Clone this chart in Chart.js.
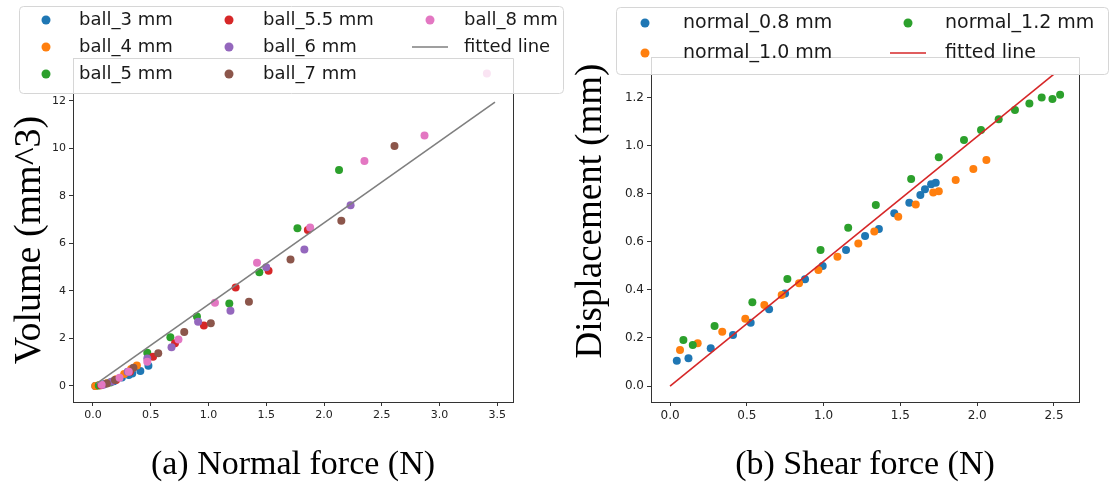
<!DOCTYPE html>
<html>
<head>
<meta charset="utf-8">
<script src="https://cdn.jsdelivr.net/npm/chart.js@4/dist/chart.umd.min.js"></script>
<style>
  html, body { margin: 0; padding: 0; background: #fff; }
  #wrap { position: relative; width: 1114px; height: 486px; }
  #wrap canvas { position: absolute; left: 0; top: 0; }
</style>
</head>
<body>
<div id="wrap">
  <canvas id="normalPanel" width="1114" height="486"></canvas>
  <canvas id="shearPanel" width="1114" height="486"></canvas>
</div>
<script>
// ---------- Panel (a): volume vs normal force, one series per ball size ----------
const ballLabels = ['ball_3 mm', 'ball_4 mm', 'ball_5 mm', 'ball_5.5 mm', 'ball_6 mm', 'ball_7 mm', 'ball_8 mm'];
const ball3  = [[0.02, 0.00], [0.10, 0.08], [0.18, 0.20], [0.25, 0.36], [0.31, 0.46], [0.34, 0.53], [0.41, 0.63], [0.48, 0.85]];
const ball4  = [[0.02, 0.00], [0.05, 0.03], [0.12, 0.12], [0.20, 0.28], [0.27, 0.50], [0.33, 0.72], [0.38, 0.86]];
const ball5  = [[0.05, 0.02], [0.15, 0.15], [0.47, 1.40], [0.67, 2.05], [0.90, 2.93], [1.18, 3.47], [1.44, 4.79], [1.77, 6.64], [2.13, 9.09]];
const ball55 = [[0.07, 0.03], [0.20, 0.25], [0.32, 0.60], [0.52, 1.23], [0.71, 1.80], [0.96, 2.55], [1.235, 4.15], [1.52, 4.85], [1.86, 6.57]];
const ball6  = [[0.09, 0.05], [0.16, 0.18], [0.30, 0.60], [0.47, 1.16], [0.68, 1.63], [0.91, 2.71], [1.19, 3.17], [1.50, 5.00], [1.83, 5.75], [2.23, 7.61]];
const ball7  = [[0.12, 0.10], [0.19, 0.25], [0.35, 0.77], [0.565, 1.38], [0.79, 2.27], [1.02, 2.64], [1.35, 3.55], [1.71, 5.33], [2.15, 6.96], [2.61, 10.10]];
const ball8  = [[0.075, 0.05], [0.23, 0.35], [0.31, 0.60], [0.47, 1.02], [0.74, 1.96], [1.056, 3.51], [1.42, 5.19], [1.88, 6.67], [2.35, 9.47], [2.87, 10.55], [3.41, 13.16]];
const volumeFit = [[0.03, 0.10], [3.48, 11.95]];
const normalForceTicks = [0, 0.5, 1, 1.5, 2, 2.5, 3, 3.5];
const volumeTicks = [0, 2, 4, 6, 8, 10, 12];

// ---------- Panel (b): displacement vs shear force, one series per normal preload ----------
const shearLabels = ['normal_0.8 mm', 'normal_1.0 mm', 'normal_1.2 mm'];
const normal08 = [[0.044, 0.105], [0.12, 0.115], [0.265, 0.157], [0.41, 0.212], [0.525, 0.263], [0.645, 0.319], [0.749, 0.385], [0.879, 0.444], [0.994, 0.499], [1.146, 0.565], [1.27, 0.624], [1.36, 0.653], [1.46, 0.718], [1.558, 0.762], [1.63, 0.794], [1.66, 0.818], [1.70, 0.839], [1.73, 0.845]];
const normal10 = [[0.065, 0.150], [0.18, 0.178], [0.34, 0.226], [0.49, 0.280], [0.614, 0.337], [0.727, 0.378], [0.84, 0.427], [0.966, 0.482], [1.09, 0.537], [1.226, 0.593], [1.33, 0.642], [1.486, 0.704], [1.60, 0.755], [1.714, 0.805], [1.75, 0.810], [1.86, 0.857], [1.975, 0.902], [2.06, 0.940]];
const normal12 = [[0.087, 0.191], [0.148, 0.170], [0.29, 0.250], [0.536, 0.348], [0.764, 0.445], [0.98, 0.566], [1.16, 0.658], [1.34, 0.753], [1.57, 0.861], [1.75, 0.951], [1.914, 1.023], [2.025, 1.064], [2.14, 1.109], [2.246, 1.148], [2.34, 1.175], [2.42, 1.200], [2.49, 1.193], [2.54, 1.211]];
const shearFit = [[0, 0], [2.5, 1.297]];
const shearForceTicks = [0, 0.5, 1, 1.5, 2, 2.5];
const displacementTicks = [0, 0.2, 0.4, 0.6, 0.8, 1.0, 1.2];

const tab10 = ['#1f77b4', '#ff7f0e', '#2ca02c', '#d62728', '#9467bd', '#8c564b', '#e377c2', '#7f7f7f'];
const toXY = pts => pts.map(([x, y]) => ({ x, y }));

// Top/right spines behind the marks, the rotated y-axis caption, and a
// translucent matplotlib-style legend on top of everything.
const panelDecor = {
  id: 'panelDecor',
  beforeDatasetsDraw(chart) {
    const { ctx, chartArea: a } = chart;
    ctx.save();
    ctx.strokeStyle = '#333';
    ctx.lineWidth = 1;
    ctx.beginPath();
    ctx.moveTo(Math.round(a.left) + 0.5, Math.round(a.top) + 0.5);
    ctx.lineTo(Math.round(a.right) + 0.5, Math.round(a.top) + 0.5);
    ctx.lineTo(Math.round(a.right) + 0.5, Math.round(a.bottom) + 0.5);
    ctx.stroke();
    ctx.restore();
  },
  afterDraw(chart, args, opts) {
    const { ctx } = chart;

    const yt = opts.yTitle;
    ctx.save();
    ctx.translate(yt.x, yt.y);
    ctx.rotate(-Math.PI / 2);
    ctx.font = yt.size + 'px "Liberation Serif"';
    ctx.fillStyle = '#000';
    ctx.textAlign = 'center';
    ctx.textBaseline = 'middle';
    ctx.fillText(yt.text, 0, 0);
    ctx.restore();

    const [bx, by, bw, bh] = opts.box;
    ctx.save();
    ctx.beginPath();
    ctx.roundRect(bx + 0.5, by + 0.5, bw, bh, 4);
    ctx.fillStyle = 'rgba(255,255,255,0.8)';
    ctx.fill();
    ctx.strokeStyle = '#d6d6d6';
    ctx.lineWidth = 1;
    ctx.stroke();
    ctx.font = opts.fontSize + 'px "DejaVu Sans"';
    ctx.textBaseline = 'middle';
    ctx.textAlign = 'left';
    chart.data.datasets.forEach((ds, i) => {
      const col = Math.floor(i / opts.rows.length);
      const row = i % opts.rows.length;
      const c = opts.cols[col];
      const y = opts.rows[row];
      if (ds.showLine) {
        ctx.strokeStyle = ds.borderColor;
        ctx.lineWidth = 1.5;
        ctx.beginPath();
        ctx.moveTo(c.mark - 18, y);
        ctx.lineTo(c.mark + 18, y);
        ctx.stroke();
      } else {
        ctx.fillStyle = ds.backgroundColor;
        ctx.beginPath();
        ctx.arc(c.mark, y, 4.5, 0, Math.PI * 2);
        ctx.fill();
      }
      ctx.fillStyle = '#1a1a1a';
      ctx.fillText(ds.label, c.text, y);
    });
    ctx.restore();
  }
};

function pointSeries(label, pts, color, order) {
  return {
    label, data: toXY(pts), backgroundColor: color, borderColor: color,
    pointRadius: 4, pointBorderWidth: 0, order
  };
}
function fitSeries(pts, color) {
  return {
    label: 'fitted line', data: toXY(pts), showLine: true, borderColor: color,
    backgroundColor: color, borderWidth: 1.6, pointRadius: 0, order: 0
  };
}

function axis(opts) {
  return {
    type: 'linear', min: opts.min, max: opts.max,
    afterBuildTicks: s => { s.ticks = opts.ticks.map(v => ({ value: v })); },
    afterFit: s => { if (opts.width) s.width = opts.width; if (opts.height) s.height = opts.height; },
    ticks: {
      callback: opts.fmt, color: '#222', padding: 3, maxRotation: 0, autoSkip: false,
      font: { family: 'DejaVu Sans', size: opts.tickSize }
    },
    grid: { drawOnChartArea: false, drawTicks: true, tickLength: 4, tickColor: '#333', tickWidth: 1 },
    border: { display: true, color: '#333', width: 1 },
    title: {
      display: !!opts.title, text: opts.title || '', color: '#000',
      font: { family: 'Liberation Serif', size: 34, lineHeight: 1.2 },
      padding: { top: 0, bottom: 1 }
    }
  };
}

function makePanel(id, datasets, xAxis, yAxis, layoutPad, decor) {
  return new Chart(document.getElementById(id), {
    type: 'scatter',
    data: { datasets },
    options: {
      responsive: false, animation: false, events: [],
      layout: { padding: layoutPad },
      plugins: { legend: { display: false }, tooltip: { enabled: false }, panelDecor: decor },
      scales: { x: axis(xAxis), y: axis(yAxis) }
    },
    plugins: [panelDecor]
  });
}

const ballData = [ball3, ball4, ball5, ball55, ball6, ball7, ball8];
makePanel('normalPanel',
  [...ballData.map((pts, i) => pointSeries(ballLabels[i], pts, tab10[i], 10 - i)), fitSeries(volumeFit, tab10[7])],
  { min: -0.173, max: 3.636, ticks: normalForceTicks, fmt: v => v.toFixed(1), tickSize: 11,
    height: 84, title: '(a) Normal force (N)' },
  { min: -0.674, max: 13.81, ticks: volumeTicks, fmt: v => String(v), tickSize: 11, width: 73 },
  { left: 0, right: 601, top: 58, bottom: 0 },
  { yTitle: { text: 'Volume (mm^3)', x: 30, y: 240, size: 38 },
    box: [19, 6, 544, 87], fontSize: 18, rows: [20, 47, 74],
    cols: [{ mark: 46, text: 79 }, { mark: 229, text: 263 }, { mark: 430, text: 464 }] }
);

const shearData = [normal08, normal10, normal12];
makePanel('shearPanel',
  [...shearData.map((pts, i) => pointSeries(shearLabels[i], pts, tab10[i], 10 - i)), fitSeries(shearFit, tab10[3])],
  { min: -0.124, max: 2.663, ticks: shearForceTicks, fmt: v => v.toFixed(1), tickSize: 12,
    height: 84, title: '(b) Shear force (N)' },
  { min: -0.0665, max: 1.368, ticks: displacementTicks, fmt: v => v.toFixed(1), tickSize: 12, width: 91 },
  { left: 560, right: 35, top: 57, bottom: 0 },
  { yTitle: { text: 'Displacement (mm)', x: 591, y: 211, size: 37 },
    box: [616, 7, 492, 67], fontSize: 19, rows: [23, 53],
    cols: [{ mark: 645, text: 683 }, { mark: 908, text: 945 }] }
);
</script>
</body>
</html>
